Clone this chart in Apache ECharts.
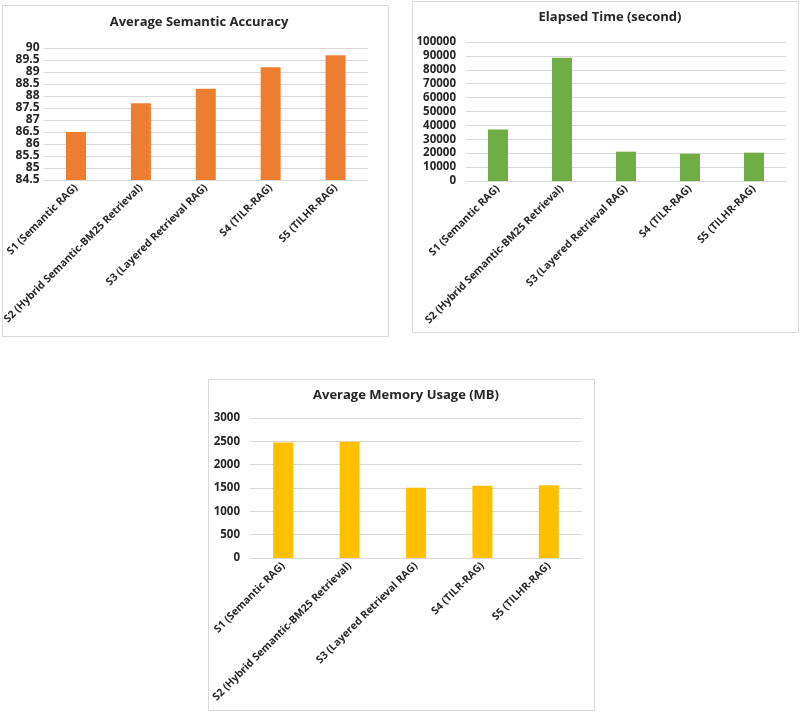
<!DOCTYPE html>
<html>
<head>
<meta charset="utf-8">
<script src="https://cdn.jsdelivr.net/npm/echarts@6/dist/echarts.min.js"></script>
<style>
  html, body { margin: 0; padding: 0; background: #fff; }
  #main { width: 800px; height: 713px; }
</style>
</head>
<body>
<div id="main"></div>
<script>
// categories shared by all three panels
const categories = [
    'S1 (Semantic RAG)',
    'S2 (Hybrid Semantic-BM25 Retrieval)',
    'S3 (Layered Retrieval RAG)',
    'S4 (TILR-RAG)',
    'S5 (TILHR-RAG)'
];
// values
const accuracy = [86.5, 87.7, 88.3, 89.2, 89.7];
const elapsed = [37000, 88700, 21100, 19600, 20400];
const memory = [2475, 2490, 1507, 1550, 1557];

const titles = ['Average Semantic Accuracy', 'Elapsed Time (second)', 'Average Memory Usage (MB)'];

const FONT = 'Open Sans';
const TXT = '#262626';

const chartDom = document.getElementById('main');
const myChart = echarts.init(chartDom);

// grids / panel frames, one per chart
const grids = [
    { left: 43, top: 48, width: 325, height: 132 },
    { left: 466, top: 42, width: 320, height: 139 },
    { left: 250, top: 418, width: 332, height: 140 }
];
const frames = [
    { x: 2.5, y: 5.5, width: 386, height: 331 },
    { x: 412.5, y: 1.5, width: 386, height: 331 },
    { x: 208.5, y: 379.5, width: 386, height: 331 }
];
const titlePos = [
    { left: 194, top: 11 },
    { left: 605, top: 6 },
    { left: 401, top: 384 }
];
const yRanges = [
    { min: 84.5, max: 90, interval: 0.5 },
    { min: 0, max: 100000, interval: 10000 },
    { min: 0, max: 3000, interval: 500 }
];
const yMargins = [4, 10, 10];
const seriesData = [accuracy, elapsed, memory];
const colors = ['#ED7D31', '#70AD47', '#FFC000'];

const option = {
    animation: false,
    backgroundColor: '#fff',
    graphic: frames.map(function (f) {
        return {
            type: 'rect',
            shape: f,
            style: { fill: 'none', stroke: '#d9d9d9', lineWidth: 1 },
            z: -1
        };
    }),
    title: titles.map(function (t, i) {
        return {
            text: t,
            left: titlePos[i].left,
            top: titlePos[i].top,
            textAlign: 'center',
            textStyle: { fontFamily: FONT, fontWeight: 'bold', fontSize: 13, color: TXT }
        };
    }),
    grid: grids,
    xAxis: grids.map(function (g, i) {
        return {
            type: 'category',
            gridIndex: i,
            data: categories,
            axisLine: { lineStyle: { color: '#d9d9d9' } },
            axisTick: { show: false },
            axisLabel: {
                rotate: 45,
                interval: 0,
                margin: 6,
                fontFamily: FONT,
                fontWeight: 'bold',
                fontSize: 10.5,
                color: TXT
            }
        };
    }),
    yAxis: grids.map(function (g, i) {
        return {
            type: 'value',
            gridIndex: i,
            min: yRanges[i].min,
            max: yRanges[i].max,
            interval: yRanges[i].interval,
            axisLine: { show: false },
            axisTick: { show: false },
            splitLine: { lineStyle: { color: '#d9d9d9' } },
            axisLabel: {
                margin: yMargins[i],
                showMinLabel: true,
                showMaxLabel: true,
                hideOverlap: false,
                formatter: function (v) { return String(v); },
                fontFamily: FONT,
                fontWeight: 'bold',
                fontSize: i === 0 ? 12 : 11.5,
                color: TXT
            }
        };
    }),
    series: seriesData.map(function (d, i) {
        return {
            type: 'bar',
            xAxisIndex: i,
            yAxisIndex: i,
            data: d,
            barWidth: 20,
            itemStyle: { color: colors[i] }
        };
    })
};

myChart.setOption(option);
</script>
</body>
</html>
